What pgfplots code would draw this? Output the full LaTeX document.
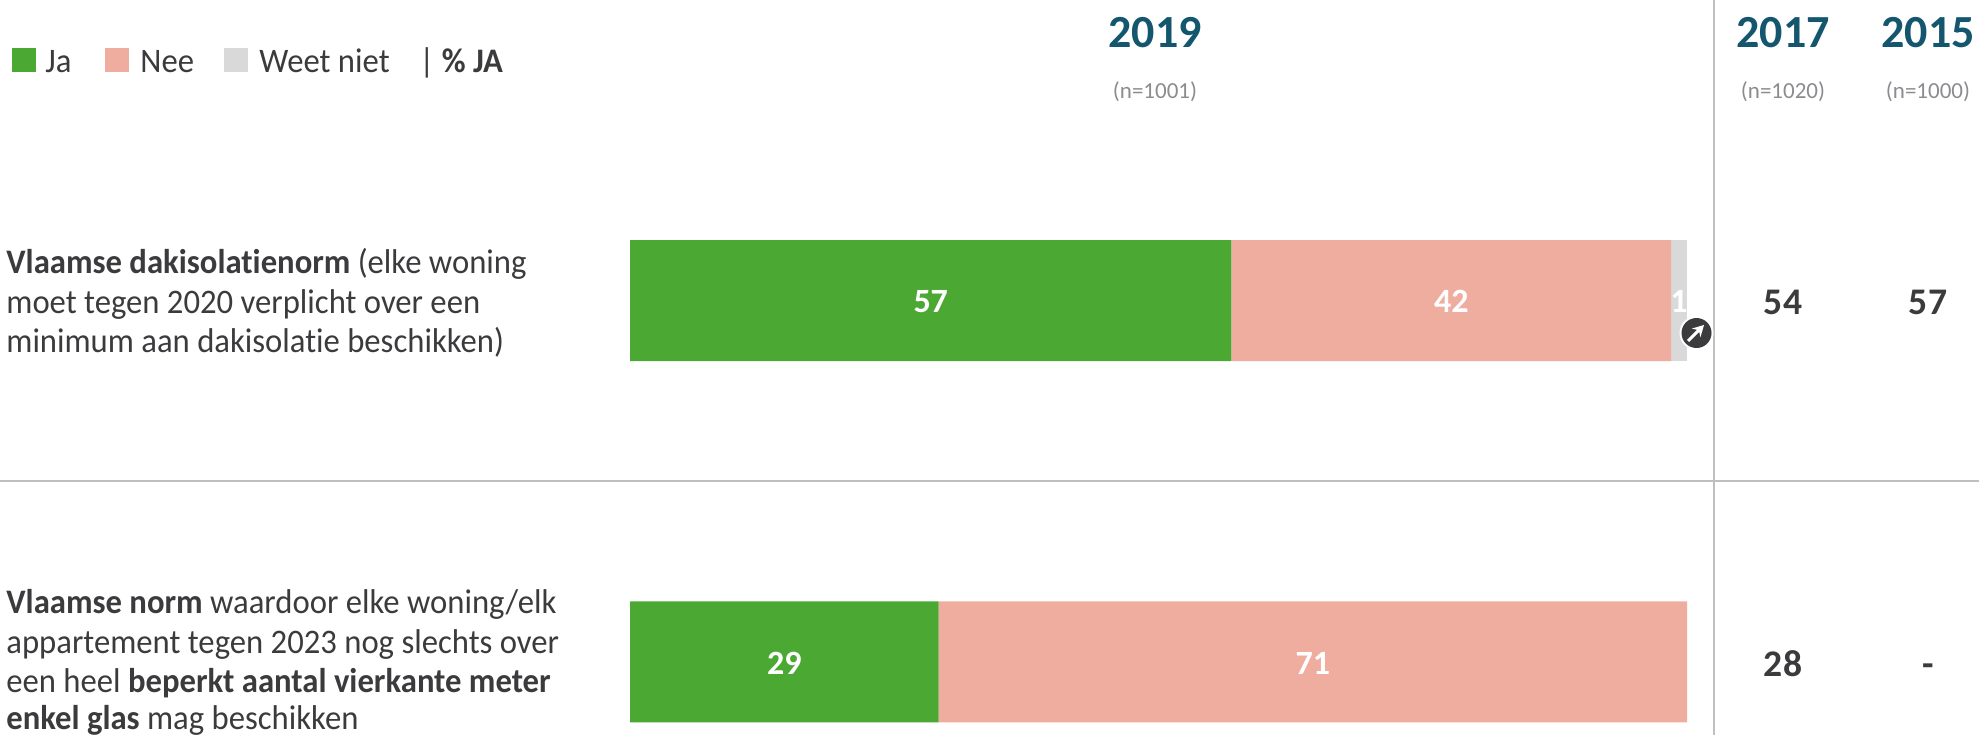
\documentclass[border=0pt]{standalone}
\usepackage{fontspec}
\setmainfont[Ligatures=NoCommon]{Carlito}
\newfontfamily\bodyf[Ligatures=NoCommon,FakeStretch=0.95]{Carlito}
\usepackage{pgfplots}
\pgfplotsset{compat=1.18}
\usetikzlibrary{arrows.meta}
\definecolor{cJa}{HTML}{4BA833}
\definecolor{cNee}{HTML}{EFADA0}
\definecolor{cWn}{HTML}{D9D9D9}
\definecolor{cTxt}{HTML}{3B3B3D}
\definecolor{cTitle}{HTML}{14566E}
\definecolor{cN}{HTML}{8C8C90}
\definecolor{cLine}{HTML}{BFBFBF}
\newcommand{\body}{\bodyf\fontsize{17.2}{20}\selectfont}
\begin{document}
\begin{tikzpicture}
\clip (0,0) rectangle (989.5pt,367.5pt);
\begin{scope}[x=0.5pt,y=-0.5pt,yshift=367.5pt]
\draw[cLine,line width=1pt] (1714,0)--(1714,735);
\draw[cLine,line width=1pt] (0,481)--(1979,481);
\end{scope}
\begin{axis}[
  at={(0,0)},anchor=south west,
  scale only axis,width=989.5pt,height=367.5pt,
  xmin=-59.60,xmax=127.62,ymin=-0.8313,ymax=1.2020,
  y dir=reverse,
  xbar stacked,bar width=60.5pt,
  axis line style={draw=none},ticks=none,clip=false,
  /pgf/number format/assume math mode=true,
  /pgf/number format/fixed,/pgf/number format/precision=0,
  nodes near coords,
  every node near coord/.append style={text=white,yshift=-0.5pt,font=\fontsize{17}{20}\selectfont\bfseries},
]
\addplot[fill=cJa,draw=none] coordinates {(56.9,0) (29.2,1)};
\addplot[fill=cNee,draw=none] coordinates {(41.6,0) (70.8,1)};
\addplot[fill=cWn,draw=none] coordinates {(1.49,0)};
\end{axis}
\begin{scope}[x=0.5pt,y=-0.5pt,yshift=367.5pt]
% legend
\fill[cJa] (12,48) rectangle (36,72);
\fill[cNee] (105,48) rectangle (129,72);
\fill[cWn] (224,48) rectangle (248,72);
\begin{scope}[every node/.style={anchor=base west,inner sep=0,text=cTxt,font=\bodyf\fontsize{17.2}{20}\selectfont}]
\node at (45,73) {Ja};
\node at (140,73) {Nee};
\node at (259,73) {Weet niet};
\node at (419,73) {| \textbf{\% JA}};
\end{scope}
% headers
\foreach \x/\y/\n in {1155/2019/1001,1783/2017/1020,1928/2015/1000}{
  \node[anchor=base,inner sep=0,text=cTitle,font=\fontsize{23}{26}\selectfont\bfseries] at (\x,48) {\y};
  \node[anchor=base,inner sep=0,text=cN,font=\fontsize{11.5}{14}\selectfont] at (\x,99) {(n=\n)};
}
% right values
\foreach \x/\y/\t in {1783/314/54,1928/314/57,1783/676/28,1928/676/-}{
  \node[anchor=base,inner sep=0,text=cTxt,font=\fontsize{18.8}{20}\selectfont\bfseries] at (\x,\y) {\t};
}
% row labels
\begin{scope}[every node/.style={anchor=base west,inner sep=0,text=cTxt,font=\body}]
\node at (6,273) {\textbf{Vlaamse dakisolatienorm} (elke woning};
\node at (6,313) {moet tegen 2020 verplicht over een};
\node at (6,352) {minimum aan dakisolatie beschikken)};
\node at (6,613) {\textbf{Vlaamse norm} waardoor elke woning/elk};
\node at (6,653) {appartement tegen 2023 nog slechts over};
\node at (6,692) {een heel \textbf{beperkt aantal vierkante meter}};
\node at (6,729) {\textbf{enkel glas} mag beschikken};
\end{scope}
% badge
\fill[white] (1696.5,333) circle (17);
\fill[cTxt] (1696.5,333) circle (15);
\draw[white,line width=1.5pt,-{Stealth[length=5.5pt,width=6pt]}] (1688,341)--(1704,325);
\end{scope}
\end{tikzpicture}
\end{document}
